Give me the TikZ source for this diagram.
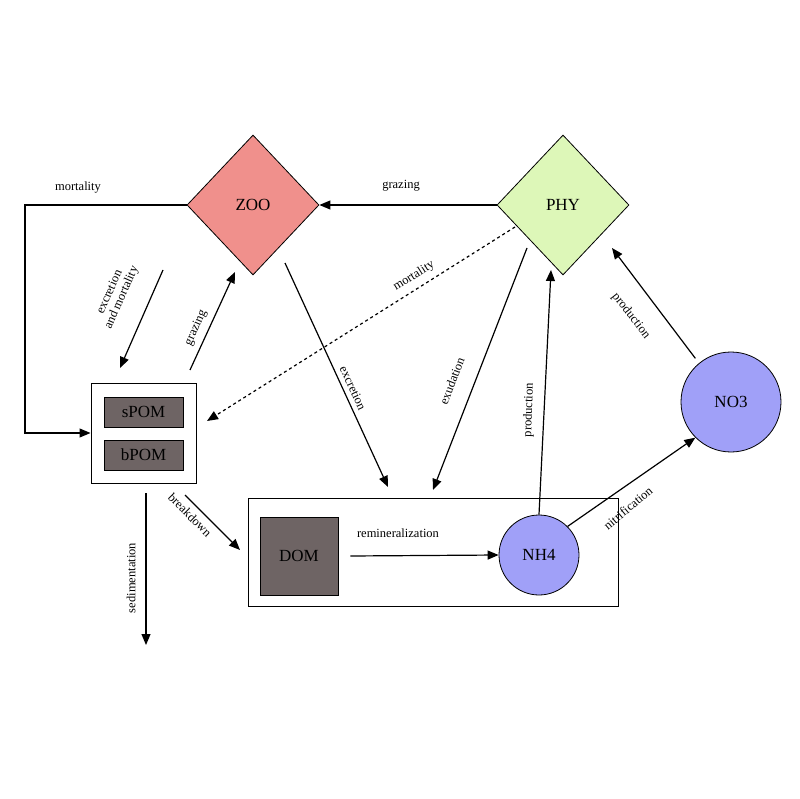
\documentclass[tikz,border=0pt]{standalone}
\usepackage{fontspec}
\setmainfont{Liberation Serif}
\usetikzlibrary{shapes.geometric,arrows.meta}
\definecolor{zoo}{HTML}{F0908C}
\definecolor{phy}{HTML}{DDF7B8}
\definecolor{nut}{HTML}{A0A0F8}
\definecolor{det}{HTML}{6E6464}
\begin{document}
\begin{tikzpicture}[x=1pt,y=-1pt,
  arr/.style={draw,line width=1.2pt,-{Triangle[length=11pt,width=9pt]}},
  lab/.style={font=\fontsize{12.5}{13}\selectfont,inner sep=1pt},
  dia/.style={diamond,draw,line width=0.8pt,minimum width=132pt,minimum height=140pt,aspect=1,font=\fontsize{17}{19}\selectfont},
  circ/.style={circle,draw,line width=0.8pt,fill=nut,font=\fontsize{17}{19}\selectfont},
  dbox/.style={draw,line width=0.8pt,fill=det,font=\fontsize{17}{19}\selectfont},
  cont/.style={draw,line width=1pt,fill=white}]
\useasboundingbox (0,0) rectangle (800,799);
\node[dia,fill=zoo] (zoo) at (253,205) {ZOO};
\node[dia,fill=phy] (phy) at (563,205) {PHY};
\node[circ,minimum size=100pt] (no3) at (731,402) {NO3};
\node[cont,minimum width=105pt,minimum height=100pt] (pom) at (143.5,433) {};
\node[dbox,minimum width=79pt,minimum height=30pt] (spom) at (143.5,412) {sPOM};
\node[dbox,minimum width=79pt,minimum height=30pt] (bpom) at (143.5,455) {bPOM};
\node[cont,minimum width=370pt,minimum height=108pt] (big) at (433,552) {};
\node[dbox,minimum width=78pt,minimum height=78pt] (dom) at (299,556) {DOM};
\node[circ,minimum size=80pt] (nh4) at (539,555) {NH4};
\coordinate (sed) at (146,645);
\draw[arr] (zoo.west) -- (25,205) -- (25,433) -- (pom.west);
\node[lab] at (78,188) {mortality};
\draw[arr] (163,270) -- (120,368);
\node[lab,rotate=66,align=center] at (116,295) {excretion\\and mortality};
\draw[arr] (190,370) -- (235,272);
\node[lab,rotate=66] at (196,328) {grazing};
\draw[arr] (phy.west) -- (zoo.east);
\node[lab] at (401,186) {grazing};
\draw[arr,dashed] (515,227) -- (207,421);
\node[lab,rotate=32] at (414,276) {mortality};
\draw[arr] (285,263) -- (388,487);
\node[lab,rotate=-65] at (353,388) {excretion};
\draw[arr] (527,248) -- (433,490);
\node[lab,rotate=69] at (452,381) {exudation};
\draw[arr] (nh4.north) -- (551,270);
\node[lab,rotate=88] at (529,410) {production};
\draw[arr] (no3.north west) ++(0,-8) -- (612,248);
\node[lab,rotate=-52] at (631,316) {production};
\draw[arr] (nh4.north east) -- (no3.south west);
\node[lab,rotate=40] at (628,508) {nitrification};
\draw[arr] (dom.east) ++(12,0) -- (nh4.west);
\node[lab] at (398,533) {remineralization};
\draw[arr] (185,495) -- (240,550);
\node[lab,rotate=-45] at (190,515) {breakdown};
\draw[arr] (146,493) -- (sed);
\node[lab,rotate=90] at (131,578) {sedimentation};
\end{tikzpicture}
\end{document}
